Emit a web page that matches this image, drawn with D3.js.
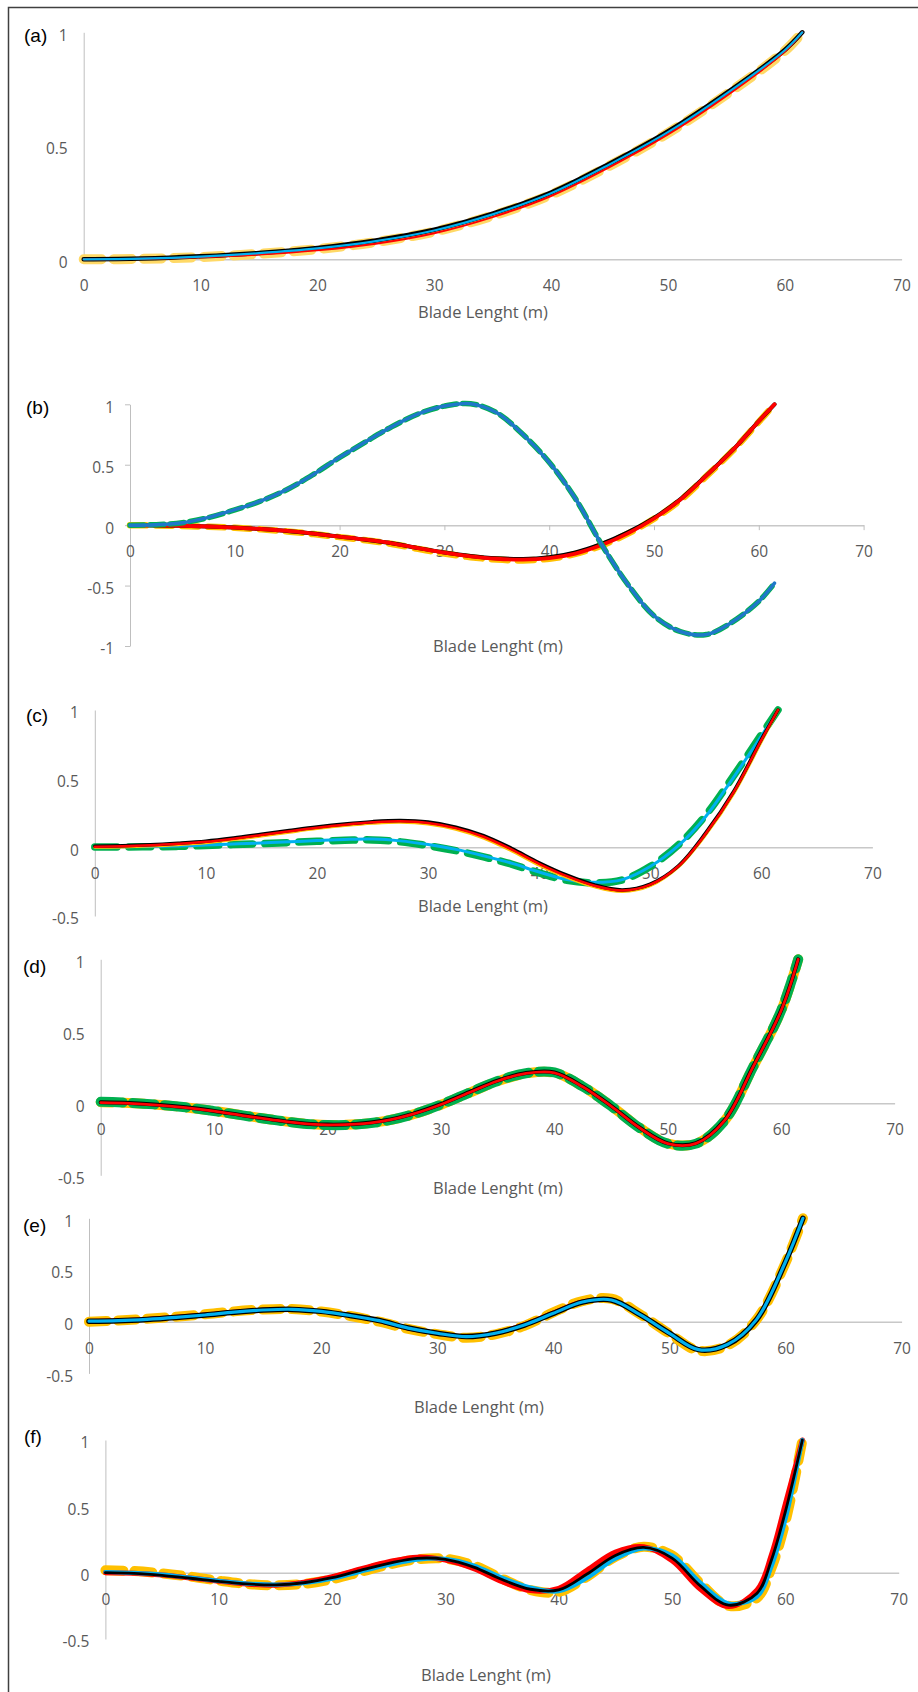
<!DOCTYPE html>
<html>
<head>
<meta charset="utf-8">
<script src="https://cdn.jsdelivr.net/npm/d3@7"></script>
<style>
  html, body { margin: 0; padding: 0; background: #fff; }
  svg { display: block; }
</style>
</head>
<body>
<svg id="fig" width="918" height="1692"></svg>
<script>
// ---- Normalised mode shapes along the blade span (m) ----
const xTicks = [0, 10, 20, 30, 40, 50, 60, 70];
const yTicksA = [0, 0.5, 1];
const yTicksB = [-1, -0.5, 0, 0.5, 1];
const yTicksC = [-0.5, 0, 0.5, 1];

const spanA = [0, 5, 10, 15, 20, 25, 30, 35, 40, 45, 50, 55, 60, 61.5];
const spanG = [0, 2.5, 5, 7.5, 10, 12.5, 15, 17.5, 20, 22.5, 25, 27.5, 30, 32.5, 35, 37.5, 40, 42.5, 45, 47.5, 50, 52.5, 55, 57.5, 60, 61.5];
const spanF = [0, 2.5, 5, 7.5, 10, 12.5, 15, 17.5, 20, 22.5, 25, 27.5, 30, 32.5, 35, 37.5, 40, 42.5, 45, 47.5, 50, 52.5, 55, 57.5, 58.75, 60, 61.5];

// (a)
const aYellow = [0, 0.002, 0.01, 0.024, 0.045, 0.076, 0.122, 0.192, 0.285, 0.412, 0.556, 0.726, 0.918, 1.0];
const aBlack  = [0, 0.003, 0.013, 0.028, 0.05, 0.083, 0.13, 0.201, 0.294, 0.421, 0.563, 0.732, 0.922, 1.0];
const aRed    = [0, 0.002, 0.009, 0.021, 0.04, 0.069, 0.115, 0.186, 0.279, 0.406, 0.55, 0.72, 0.915, 1.0];
const aCyan   = [0, 0.003, 0.012, 0.027, 0.048, 0.08, 0.127, 0.198, 0.291, 0.418, 0.56, 0.73, 0.921, 1.0];

// (b)
const bYellow = [0, -0.003, -0.007, -0.013, -0.022, -0.035, -0.052, -0.074, -0.099, -0.125, -0.156, -0.196, -0.235, -0.265, -0.285, -0.292, -0.278, -0.238, -0.168, -0.07, 0.052, 0.205, 0.405, 0.615, 0.855, 1.0];
const bBlack  = [0, -0.002, -0.005, -0.011, -0.02, -0.032, -0.048, -0.07, -0.095, -0.12, -0.15, -0.19, -0.226, -0.255, -0.274, -0.28, -0.265, -0.225, -0.155, -0.06, 0.06, 0.213, 0.412, 0.62, 0.86, 1.0];
const bRed    = [0, -0.002, -0.005, -0.011, -0.02, -0.032, -0.048, -0.07, -0.095, -0.12, -0.15, -0.19, -0.228, -0.258, -0.278, -0.285, -0.272, -0.235, -0.165, -0.068, 0.055, 0.21, 0.41, 0.62, 0.86, 1.0];
const bGreen  = [0, 0.004, 0.02, 0.063, 0.127, 0.2, 0.295, 0.42, 0.56, 0.69, 0.815, 0.92, 0.985, 1.005, 0.93, 0.75, 0.52, 0.22, -0.16, -0.49, -0.75, -0.88, -0.905, -0.8, -0.63, -0.48];
const bBlue   = [0, 0.004, 0.02, 0.064, 0.128, 0.2, 0.296, 0.42, 0.561, 0.69, 0.815, 0.92, 0.986, 1.005, 0.93, 0.75, 0.52, 0.22, -0.16, -0.49, -0.75, -0.88, -0.905, -0.8, -0.63, -0.48];

// (c)
const cYellow = [0.002, 0.004, 0.011, 0.021, 0.035, 0.058, 0.085, 0.112, 0.138, 0.16, 0.177, 0.185, 0.172, 0.133, 0.069, -0.023, -0.128, -0.217, -0.286, -0.32, -0.277, -0.143, 0.095, 0.393, 0.773, 1.0];
const cBlack  = [0.008, 0.011, 0.018, 0.03, 0.045, 0.068, 0.095, 0.122, 0.148, 0.17, 0.187, 0.195, 0.184, 0.147, 0.085, -0.007, -0.112, -0.203, -0.274, -0.31, -0.268, -0.138, 0.105, 0.405, 0.785, 1.0];
const cRed    = [0.005, 0.008, 0.015, 0.026, 0.04, 0.063, 0.09, 0.117, 0.143, 0.165, 0.182, 0.19, 0.178, 0.14, 0.077, -0.015, -0.12, -0.21, -0.28, -0.315, -0.272, -0.14, 0.1, 0.4, 0.78, 1.0];
const cGreen  = [0.003, 0.003, 0.004, 0.007, 0.013, 0.02, 0.027, 0.035, 0.044, 0.051, 0.054, 0.04, 0.012, -0.024, -0.07, -0.122, -0.186, -0.24, -0.258, -0.237, -0.14, 0.015, 0.235, 0.52, 0.82, 1.0];
const cCyan   = [0.005, 0.005, 0.006, 0.01, 0.017, 0.024, 0.032, 0.04, 0.049, 0.057, 0.06, 0.047, 0.02, -0.015, -0.062, -0.115, -0.18, -0.235, -0.255, -0.235, -0.14, 0.01, 0.225, 0.51, 0.81, 1.0];

// (d)
const dYellow = [0.008, 0.002, -0.01, -0.028, -0.053, -0.083, -0.112, -0.137, -0.15, -0.146, -0.124, -0.078, -0.01, 0.073, 0.153, 0.207, 0.212, 0.117, -0.018, -0.168, -0.279, -0.279, -0.122, 0.248, 0.643, 1.0];
const dGreen  = [0.01, 0.004, -0.009, -0.028, -0.054, -0.084, -0.113, -0.138, -0.151, -0.147, -0.124, -0.077, -0.009, 0.074, 0.155, 0.209, 0.214, 0.117, -0.019, -0.17, -0.281, -0.28, -0.121, 0.249, 0.645, 1.0];
const dBlack  = [0.007, 0.002, -0.01, -0.028, -0.053, -0.083, -0.111, -0.136, -0.148, -0.143, -0.12, -0.073, -0.006, 0.077, 0.157, 0.21, 0.214, 0.117, -0.018, -0.168, -0.278, -0.276, -0.118, 0.252, 0.647, 1.0];
const dRed    = [0.005, 0.0, -0.012, -0.03, -0.055, -0.085, -0.113, -0.138, -0.15, -0.145, -0.122, -0.075, -0.008, 0.075, 0.155, 0.208, 0.212, 0.115, -0.02, -0.17, -0.28, -0.278, -0.12, 0.25, 0.645, 1.0];

// (e)
const eYellow = [0.0, 0.012, 0.028, 0.048, 0.072, 0.1, 0.118, 0.122, 0.098, 0.055, 0.0, -0.07, -0.12, -0.155, -0.122, -0.04, 0.09, 0.2, 0.222, 0.07, -0.115, -0.28, -0.23, 0.02, 0.57, 1.0];
const eGreen  = [0.0, 0.006, 0.02, 0.04, 0.062, 0.09, 0.11, 0.118, 0.1, 0.062, 0.014, -0.058, -0.108, -0.142, -0.112, -0.035, 0.076, 0.186, 0.21, 0.068, -0.108, -0.268, -0.222, 0.015, 0.575, 1.0];
const eRed    = [0.012, 0.018, 0.032, 0.052, 0.075, 0.102, 0.12, 0.124, 0.1, 0.055, 0.002, -0.07, -0.118, -0.145, -0.105, -0.02, 0.095, 0.2, 0.212, 0.06, -0.12, -0.272, -0.215, 0.03, 0.59, 1.0];
const eBlack  = [0.004, 0.009, 0.022, 0.041, 0.064, 0.092, 0.112, 0.119, 0.1, 0.06, 0.011, -0.061, -0.111, -0.144, -0.112, -0.033, 0.08, 0.189, 0.21, 0.066, -0.111, -0.27, -0.221, 0.019, 0.579, 1.0];
const eCyan   = [0.005, 0.01, 0.023, 0.042, 0.065, 0.093, 0.113, 0.12, 0.1, 0.06, 0.01, -0.062, -0.112, -0.145, -0.112, -0.032, 0.081, 0.19, 0.21, 0.065, -0.112, -0.27, -0.22, 0.02, 0.58, 1.0];

// (f)
const fYellow = [0.018, 0.012, -0.005, -0.03, -0.06, -0.085, -0.095, -0.085, -0.05, 0.005, 0.06, 0.1, 0.105, 0.055, -0.045, -0.13, -0.145, -0.03, 0.12, 0.195, 0.13, -0.08, -0.25, -0.19, 0.03, 0.38, 1.0];
const fRed    = [0.0, -0.004, -0.018, -0.04, -0.064, -0.086, -0.094, -0.072, -0.03, 0.028, 0.082, 0.117, 0.095, 0.03, -0.068, -0.135, -0.118, 0.02, 0.155, 0.195, 0.09, -0.125, -0.255, -0.13, 0.13, 0.52, 1.0];
const fCyan   = [0.005, -0.002, -0.015, -0.038, -0.062, -0.082, -0.09, -0.08, -0.046, 0.008, 0.058, 0.098, 0.104, 0.055, -0.038, -0.112, -0.14, -0.04, 0.105, 0.182, 0.13, -0.075, -0.232, -0.18, 0.04, 0.4, 1.0];
const fBlack  = [0.0, -0.005, -0.02, -0.042, -0.066, -0.085, -0.092, -0.076, -0.038, 0.018, 0.07, 0.108, 0.1, 0.042, -0.052, -0.125, -0.13, -0.01, 0.13, 0.19, 0.11, -0.1, -0.245, -0.155, 0.09, 0.46, 1.0];

// ---- line styles ----
const YEL = '#FFC000', GRN = '#00B050', RED = '#FF0000', BLK = '#000000', CYN = '#00B0F0', BLU = '#1F78C9';

const panels = [
  { label: '(a)', lx: 24, ly: 35, left: 83.7, right: 901.6, top: 32.3, bottom: 259.3, yMin: 0, yTicks: yTicksA,
    tick: 0, tx: 483, ty: 312, span: spanA,
    series: [
      { v: aYellow, c: '#FFD966', w: 10, dash: '18,12' },
      { v: aBlack, c: BLK, w: 4.5 },
      { v: aRed, c: RED, w: 2 },
      { v: aCyan, c: CYN, w: 2.2 } ] },
  { label: '(b)', lx: 26, ly: 407, left: 130, right: 863.6, top: 404.3, bottom: 646, yMin: -1, yTicks: yTicksB,
    tick: 5, tx: 498, ty: 646, span: spanG,
    series: [
      { v: bYellow, c: YEL, w: 6.5, dash: '16,10' },
      { v: bBlack, c: BLK, w: 4 },
      { v: bRed, c: RED, w: 3.8 },
      { v: bGreen, c: GRN, w: 5.5, dash: '14,6' },
      { v: bBlue, c: BLU, w: 3.5 } ] },
  { label: '(c)', lx: 26, ly: 715, left: 94.8, right: 872.4, top: 710, bottom: 916, yMin: -0.5, yTicks: yTicksC,
    tick: 0, tx: 483, ty: 906, span: spanG,
    series: [
      { v: cGreen, c: GRN, w: 7.5, dash: '22,12' },
      { v: cCyan, c: CYN, w: 3 },
      { v: cYellow, c: YEL, w: 3.5 },
      { v: cBlack, c: BLK, w: 3.5 },
      { v: cRed, c: RED, w: 2.5 } ] },
  { label: '(d)', lx: 23, ly: 966, left: 100.7, right: 894.6, top: 959.3, bottom: 1175.3, yMin: -0.5, yTicks: yTicksC,
    tick: 0, tx: 498, ty: 1188, span: spanG,
    series: [
      { v: dYellow, c: YEL, w: 10, dash: '22,10', off: 10 },
      { v: dGreen, c: GRN, w: 10, dash: '22,10' },
      { v: dBlack, c: BLK, w: 4 },
      { v: dRed, c: RED, w: 2.8 } ] },
  { label: '(e)', lx: 23, ly: 1225, left: 89, right: 901.6, top: 1218.3, bottom: 1373.4, yMin: -0.5, yTicks: yTicksC,
    tick: 0, tx: 479, ty: 1407, span: spanG,
    series: [
      { v: eYellow, c: YEL, w: 10, dash: '18,11' },
      { v: eGreen, c: GRN, w: 3 },
      { v: eRed, c: RED, w: 3 },
      { v: eBlack, c: BLK, w: 5.5 },
      { v: eCyan, c: CYN, w: 3.2 } ] },
  { label: '(f)', lx: 24, ly: 1436, left: 105.4, right: 898.7, top: 1440, bottom: 1639, yMin: -0.5, yTicks: yTicksC,
    tick: 0, tx: 486, ty: 1675, span: spanF,
    series: [
      { v: fYellow, c: YEL, w: 10, dash: '18,11' },
      { v: fRed, c: RED, w: 5 },
      { v: fCyan, c: CYN, w: 4.2 },
      { v: fBlack, c: BLK, w: 2.8 } ] }
];

const svg = d3.select('#fig');

// outer frame (right and bottom edges fall outside the page)
svg.append('rect')
  .attr('x', 8.5).attr('y', 7.5).attr('width', 1000).attr('height', 2000)
  .attr('fill', 'none').attr('stroke', '#404040').attr('stroke-width', 1.5);

const tickFont = '"Open Sans", Lato, sans-serif';

panels.forEach(p => {
  const x = d3.scaleLinear().domain([0, 70]).range([p.left, p.right]);
  const y = d3.scaleLinear().domain([p.yMin, 1]).range([p.bottom, p.top]);
  const g = svg.append('g');

  // vertical axis
  const yAxis = d3.axisLeft(y).tickValues(p.yTicks).tickFormat(d => String(d))
    .tickSize(p.tick).tickSizeOuter(0).tickPadding(16 - p.tick);
  const gy = g.append('g').attr('transform', `translate(${p.left},0)`).call(yAxis);
  gy.select('.domain').attr('stroke', '#BFBFBF').attr('stroke-width', 1);
  gy.selectAll('.tick line').attr('stroke', '#BFBFBF');
  gy.selectAll('.tick text')
    .attr('font-family', tickFont).attr('font-size', 15.5).attr('fill', '#595959')
    .attr('y', 3).attr('dy', '0.32em');

  // horizontal axis through zero
  const xAxis = d3.axisBottom(x).tickValues(xTicks)
    .tickSize(p.tick).tickSizeOuter(0).tickPadding(21 - p.tick);
  const gx = g.append('g').attr('transform', `translate(0,${y(0)})`).call(xAxis);
  gx.select('.domain').attr('stroke', '#C8C8C8').attr('stroke-width', 1.5);
  gx.selectAll('.tick line').attr('stroke', '#BFBFBF');
  gx.selectAll('.tick text')
    .attr('font-family', tickFont).attr('font-size', 15.5).attr('fill', '#595959');

  // mode-shape curves
  p.series.forEach(s => {
    const line = d3.line()
      .x((d, i) => x(p.span[i]))
      .y(d => y(d))
      .curve(d3.curveCatmullRom.alpha(0.5));
    const path = g.append('path')
      .attr('d', line(s.v))
      .attr('fill', 'none')
      .attr('stroke', s.c)
      .attr('stroke-width', s.w)
      .attr('stroke-linejoin', 'round')
      .attr('stroke-linecap', 'round');
    if (s.dash) {
      path.attr('stroke-dasharray', s.dash);
      if (s.off) path.attr('stroke-dashoffset', s.off);
    }
  });

  // axis title
  g.append('text')
    .attr('x', p.tx).attr('y', p.ty).attr('dy', '0.35em')
    .attr('text-anchor', 'middle')
    .attr('font-family', tickFont).attr('font-size', 16.5).attr('fill', '#595959')
    .text('Blade Lenght (m)');

  // panel letter
  g.append('text')
    .attr('x', p.lx).attr('y', p.ly).attr('dy', '0.35em')
    .attr('font-family', '"Liberation Sans", Arial, sans-serif').attr('font-size', 19).attr('fill', '#000')
    .text(p.label);
});
</script>
</body>
</html>
